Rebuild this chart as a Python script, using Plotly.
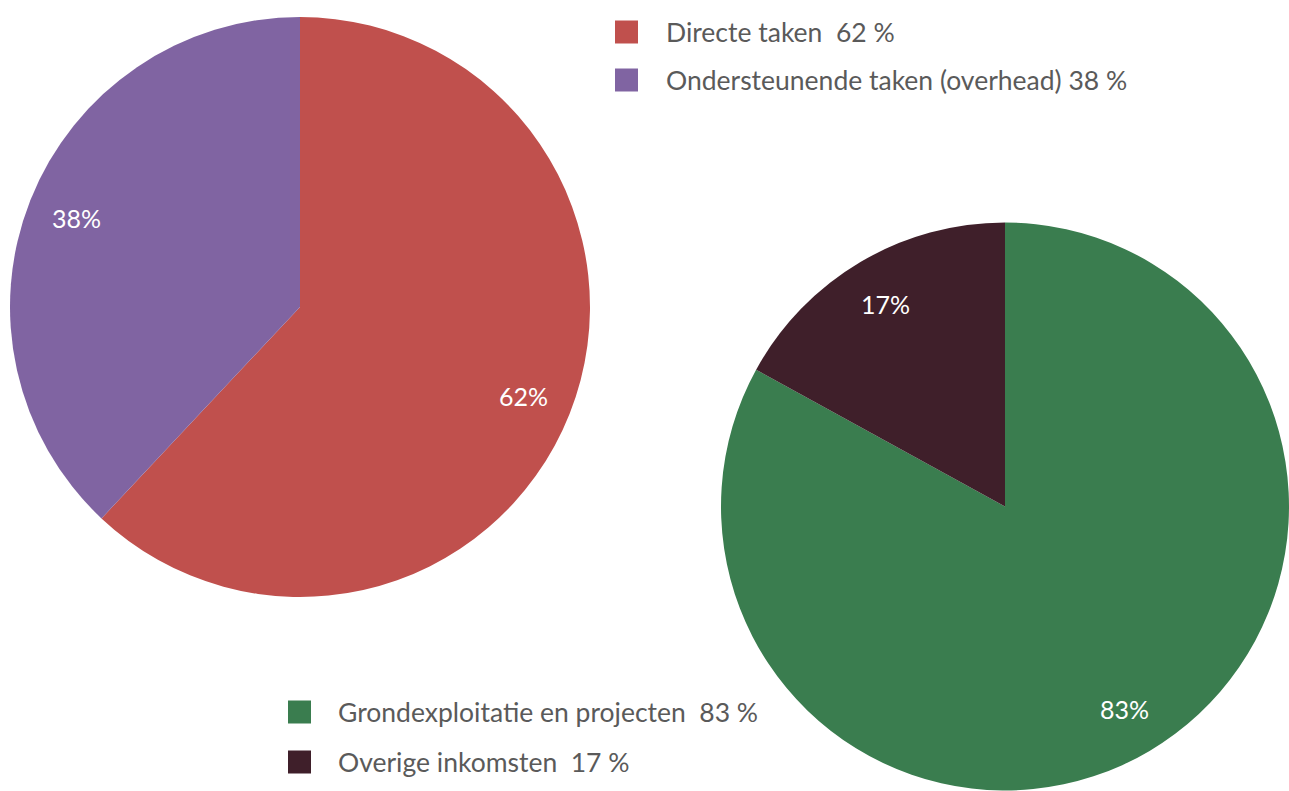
import math
import plotly.graph_objects as go

W, H = 1289, 791

# Chart 1
labels1 = ["Directe taken", "Ondersteunende taken (overhead)"]
values1 = [62, 38]
legend1 = ["Directe taken  62 %", "Ondersteunende taken (overhead) 38 %"]
colors1 = ["#C0504D", "#8064A2"]

# Chart 2
labels2 = ["Grondexploitatie en projecten", "Overige inkomsten"]
values2 = [83, 17]
legend2 = ["Grondexploitatie en projecten  83 %", "Overige inkomsten  17 %"]
colors2 = ["#3A7D4F", "#3F1F2A"]

FONT = "Lato"
TXT = "#5A5A5A"
LEG_SIZE = 26.5
LBL_SIZE = 25

dom1 = dict(x=[10 / W, 590 / W], y=[1 - 597 / H, 1 - 17 / H])
dom2 = dict(x=[721 / W, 1.0], y=[0.0, 569 / H])

fig = go.Figure()
for labels, values, colors, dom in [(labels1, values1, colors1, dom1),
                                    (labels2, values2, colors2, dom2)]:
    fig.add_trace(go.Pie(
        labels=labels, values=values, sort=False, direction="clockwise", rotation=0,
        marker=dict(colors=colors, line=dict(width=0)),
        textinfo="none", domain=dom, showlegend=False, hoverinfo="label+percent",
    ))

shapes = []
annotations = []


def add_labels(values, dom):
    # percentage labels placed along each slice's mid-angle
    x0, x1 = dom["x"][0] * W, dom["x"][1] * W
    y0, y1 = (1 - dom["y"][1]) * H, (1 - dom["y"][0]) * H
    cx, cy = (x0 + x1) / 2, (y0 + y1) / 2
    r = min(x1 - x0, y1 - y0) / 2
    total = sum(values)
    cum = 0
    for v in values:
        mid = (cum + v / 2) / total * 2 * math.pi
        cum += v
        px = cx + 0.83 * r * math.sin(mid)
        py = cy - 0.83 * r * math.cos(mid)
        annotations.append(dict(text=f"{round(100 * v / total)}%", xref="paper", yref="paper",
                                x=px / W, y=1 - py / H, xanchor="center", yanchor="middle",
                                showarrow=False, font=dict(family=FONT, size=LBL_SIZE, color="white")))


def add_legend(texts, colors, x_box, x_text, y_first, gap):
    for i, (t, c) in enumerate(zip(texts, colors)):
        yc = y_first + i * gap
        shapes.append(dict(type="rect", xref="paper", yref="paper",
                           x0=x_box / W, x1=(x_box + 23) / W,
                           y0=1 - (yc + 11.5) / H, y1=1 - (yc - 11.5) / H,
                           fillcolor=c, line=dict(width=0)))
        annotations.append(dict(text=t, xref="paper", yref="paper",
                                x=x_text / W, y=1 - yc / H, xanchor="left", yanchor="middle",
                                showarrow=False, font=dict(family=FONT, size=LEG_SIZE, color=TXT)))


add_labels(values1, dom1)
add_labels(values2, dom2)
add_legend(legend1, colors1, 615, 664, 32, 48)
add_legend(legend2, colors2, 288, 336, 712, 50)

fig.update_layout(
    width=W, height=H, margin=dict(l=0, r=0, t=0, b=0),
    paper_bgcolor="white", plot_bgcolor="white",
    shapes=shapes, annotations=annotations,
)

fig.write_html("out.html", config={"displayModeBar": False},
               post_script="document.body.style.margin='0';document.body.style.overflow='hidden';")
